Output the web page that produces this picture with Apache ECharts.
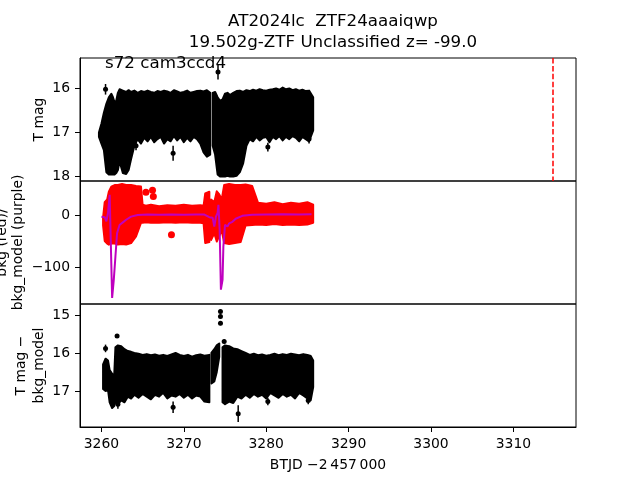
<!DOCTYPE html>
<html>
<head>
<meta charset="utf-8">
<script src="https://cdn.jsdelivr.net/npm/echarts@6/dist/echarts.min.js"></script>
<style>
html, body { margin: 0; padding: 0; background: #fff; }
#chart { width: 640px; height: 480px; }
</style>
</head>
<body>
<div id="chart"></div>
<script>
// ---- data ----
// top panel: T mag, outline of the dense error-bar cloud (bright edge / faint edge)
const magTimeA = [3259.7, 3260.0, 3260.3, 3260.6, 3260.9, 3261.2, 3261.4, 3261.6, 3261.8, 3262.0, 3262.2, 3262.6, 3263.0, 3263.3, 3263.6, 3264.0, 3264.4, 3264.8, 3265.2, 3265.6, 3266.0, 3266.4, 3266.8, 3267.2, 3267.6, 3268.0, 3268.4, 3268.8, 3269.2, 3269.6, 3270.0, 3270.4, 3270.8, 3271.2, 3271.6, 3272.0, 3272.4, 3272.8, 3273.2]
const magHiA = [17.0, 16.8, 16.55, 16.35, 16.2, 16.12, 16.2, 16.32, 16.28, 16.1, 16.02, 16.05, 16.08, 16.04, 16.08, 16.05, 16.1, 16.06, 16.08, 16.05, 16.08, 16.1, 16.06, 16.08, 16.05, 16.07, 16.1, 16.04, 16.07, 16.1, 16.08, 16.05, 16.1, 16.08, 16.06, 16.05, 16.07, 16.04, 16.1]
const magLoA = [17.1, 17.25, 17.4, 17.9, 17.95, 17.95, 17.95, 17.95, 17.92, 17.85, 17.65, 17.92, 17.94, 17.85, 17.6, 17.3, 17.15, 17.25, 17.12, 17.2, 17.1, 17.22, 17.15, 17.1, 17.25, 17.15, 17.2, 17.08, 17.18, 17.1, 17.22, 17.12, 17.2, 17.1, 17.15, 17.25, 17.45, 17.55, 17.5]
const magTimeB = [3273.5, 3273.8, 3274.1, 3274.4, 3274.7, 3275.0, 3275.3, 3275.6, 3276.0, 3276.4, 3276.8, 3277.2, 3277.6, 3278.0, 3278.4, 3278.8, 3279.2, 3279.6, 3280.0, 3280.4, 3280.8, 3281.2, 3281.6, 3282.0, 3282.4, 3282.8, 3283.2, 3283.6, 3284.0, 3284.4, 3284.8, 3285.2, 3285.7]
const magHiB = [16.1, 16.08, 16.2, 16.28, 16.25, 16.12, 16.1, 16.15, 16.1, 16.06, 16.05, 16.08, 16.04, 16.06, 16.03, 16.05, 16.02, 16.04, 16.05, 16.03, 16.02, 16.0, 16.03, 15.98, 16.02, 16.0, 16.04, 16.02, 16.05, 16.03, 16.06, 16.05, 16.2]
const magLoB = [17.3, 17.5, 17.95, 18.0, 18.0, 18.0, 17.98, 18.0, 18.0, 17.98, 17.9, 17.7, 17.3, 17.15, 17.2, 17.1, 17.18, 17.12, 17.1, 17.22, 17.1, 17.15, 17.08, 17.18, 17.1, 17.15, 17.08, 17.12, 17.2, 17.1, 17.15, 17.2, 16.95]
// single points outside the cloud: [time, mag, err]
const magPoints = [[3260.5, 16.02, 0.12], [3274.15, 15.63, 0.17], [3268.7, 17.47, 0.17], [3280.2, 17.33, 0.1], [3285.2, 17.15, 0.1], [3264.2, 17.3, 0.1], [3276.6, 17.58, 0.15]]
const discoveryTime = 3314.8

// middle panel: bkg (red) outline and bkg_model (purple)
const bkgTimeA = [3260.2, 3260.4, 3260.7, 3260.9, 3261.2, 3261.6, 3262.0, 3262.5, 3263.0, 3263.6, 3264.2, 3264.8, 3265.0, 3265.4, 3266.0, 3267.0, 3268.0, 3269.0, 3270.0, 3271.0, 3272.0, 3272.4, 3272.6, 3273.1]
const bkgHiA = [-5, 25, 30, 45, 55, 58, 58, 60, 58, 58, 56, 55, 20, 18, 20, 17, 19, 18, 20, 18, 19, 18, 42, 45]
const bkgLoA = [-20, -50, -55, -57, -55, -55, -57, -56, -57, -54, -41, -15, -15, -14, -15, -15, -14, -15, -14, -15, -15, -16, -54, -52]
const bkgTimeB = [3273.3, 3273.7, 3274.0, 3274.3, 3274.6, 3274.9, 3275.5, 3276.2, 3276.9, 3277.5, 3278.3, 3279.0, 3280.0, 3281.0, 3282.0, 3283.0, 3284.0, 3285.0, 3285.7]
const bkgHiB = [30, 25, 46, 40, 30, 58, 60, 58, 58, 59, 56, 24, 22, 25, 21, 24, 22, 25, 20]
const bkgLoB = [-48, -35, -51, -40, -30, -54, -56, -54, -52, -20, -19, -18, -19, -17, -19, -18, -19, -18, -15]
const bkgPoints = [[3265.4, 44], [3266.2, 48], [3266.3, 36], [3268.5, -38]]
const modelTime = [3260.0, 3260.4, 3260.6, 3260.8, 3261.0, 3261.1, 3261.3, 3261.5, 3261.7, 3261.9, 3262.2, 3262.6, 3263.0, 3263.6, 3264.4, 3265.6, 3267.0, 3268.5, 3270.0, 3271.5, 3272.5, 3273.1, 3273.5, 3273.7, 3273.9, 3274.1, 3274.2, 3274.35, 3274.5, 3274.7, 3274.8, 3275.0, 3275.3, 3275.5, 3275.9, 3276.3, 3277.1, 3278.3, 3280.0, 3282.0, 3284.0, 3285.5]
const modelValue = [-3, -4, -12, 4, 39, -28, -160, -125, -80, -35, -19, -14, -9, -3, 0, 1, 0.5, 1, 0.5, 1, 1, -4, -5, -22, -3, 4, 20, -28, -144, -125, -61, -19, -22, -16, -13, -7, -1.5, 0.5, 1, 1.5, 1, 1.5]

// bottom panel: T mag - bkg_model
const subTimeA = [3260.2, 3260.5, 3260.8, 3261.0, 3261.3, 3261.55, 3261.7, 3262.0, 3262.4, 3262.8, 3263.2, 3263.6, 3264.0, 3264.5, 3265.0, 3265.5, 3266.0, 3266.5, 3267.0, 3267.5, 3268.0, 3268.5, 3269.0, 3269.5, 3270.0, 3270.5, 3271.0, 3271.5, 3272.0, 3272.5, 3273.1]
const subHiA = [16.3, 16.15, 16.2, 16.45, 16.55, 16.6, 15.85, 15.8, 15.82, 15.9, 15.95, 15.97, 16.0, 16.02, 16.05, 16.03, 16.06, 16.04, 16.07, 16.05, 16.08, 16.04, 16.0, 16.05, 16.08, 16.05, 16.1, 16.06, 16.04, 16.07, 16.05]
const subLoA = [16.95, 17.0, 16.97, 17.3, 17.45, 17.4, 17.28, 17.35, 17.25, 17.3, 17.15, 17.2, 17.1, 17.18, 17.08, 17.15, 17.22, 17.1, 17.15, 17.05, 17.2, 17.12, 17.15, 17.08, 17.18, 17.1, 17.2, 17.12, 17.15, 17.28, 17.3]
const subTimeS = [3273.35, 3273.7, 3274.0, 3274.3]
const subHiS = [16.0, 15.9, 15.8, 15.75]
const subLoS = [16.8, 16.75, 16.5, 16.1]
const subTimeB = [3274.7, 3275.0, 3275.5, 3276.0, 3276.5, 3277.0, 3277.5, 3278.0, 3278.5, 3279.0, 3279.5, 3280.0, 3280.5, 3281.0, 3281.5, 3282.0, 3282.5, 3283.0, 3283.5, 3284.0, 3284.5, 3285.0, 3285.4, 3285.7]
const subHiB = [15.85, 15.8, 15.82, 15.88, 15.9, 15.95, 16.0, 16.05, 16.02, 16.06, 16.04, 16.07, 16.05, 16.02, 16.06, 16.03, 16.05, 16.02, 16.04, 16.06, 16.03, 16.05, 16.08, 16.2]
const subLoB = [17.3, 17.35, 17.28, 17.32, 17.15, 17.2, 17.1, 17.18, 17.08, 17.15, 17.1, 17.2, 17.05, 17.12, 17.18, 17.08, 17.15, 17.1, 17.2, 17.05, 17.12, 17.2, 17.25, 16.9]
const subPoints = [[3260.5, 15.88, 0.1], [3261.9, 15.55, 0.05], [3274.45, 14.91, 0.05], [3274.45, 15.04, 0.05], [3274.45, 15.22, 0.05], [3274.9, 15.7, 0.05], [3268.7, 17.43, 0.15], [3276.6, 17.6, 0.22], [3280.2, 17.28, 0.1], [3285.1, 17.25, 0.1], [3262.0, 17.35, 0.12]]

// axis ticks
const xTicks = [3260, 3270, 3280, 3290, 3300, 3310]
const magTicks = [16, 17, 18]
const bkgTicks = [-100, 0]
const subTicks = [15, 16, 17]

const FONT = 'DejaVu Sans'
const chart = echarts.init(document.getElementById('chart'))

const hull = function (axis, t, hi, lo, color) {
    return {
        type: 'custom',
        xAxisIndex: axis,
        yAxisIndex: axis,
        silent: true,
        data: [[t[0], hi[0]]],
        renderItem: function (params, api) {
            const pts = []
            for (let i = 0; i < t.length; i++) pts.push(api.coord([t[i], hi[i]]))
            for (let i = t.length - 1; i >= 0; i--) pts.push(api.coord([t[i], lo[i]]))
            return {
                type: 'polygon',
                shape: { points: pts },
                style: { fill: color, stroke: color, lineWidth: 2, lineJoin: 'round' }
            }
        }
    }
}

const errBars = function (axis, pts) {
    return {
        type: 'custom',
        xAxisIndex: axis,
        yAxisIndex: axis,
        silent: true,
        data: pts,
        encode: { x: 0, y: 1 },
        renderItem: function (params, api) {
            const t = api.value(0), v = api.value(1), e = api.value(2)
            const a = api.coord([t, v - e]), b = api.coord([t, v + e])
            return {
                type: 'line',
                shape: { x1: a[0], y1: a[1], x2: b[0], y2: b[1] },
                style: { stroke: '#000', lineWidth: 1.5 }
            }
        }
    }
}

const dots = function (axis, pts, color, size) {
    return {
        type: 'scatter',
        xAxisIndex: axis,
        yAxisIndex: axis,
        symbolSize: size,
        itemStyle: { color: color, opacity: 1 },
        data: pts.map(p => [p[0], p[1]])
    }
}

const xAxisBase = function (i, shown) {
    return {
        type: 'value',
        gridIndex: i,
        min: 3257.4,
        max: 3317.6,
        show: shown,
        splitLine: { show: false },
        axisLine: { lineStyle: { color: '#000', width: 1 } },
        axisTick: { show: shown, length: 5, lineStyle: { color: '#000' }, customValues: xTicks },
        axisLabel: { show: shown, margin: 10, color: '#000', fontFamily: FONT, fontSize: 13.9, customValues: xTicks,
            formatter: v => String(v) },
        name: shown ? 'BTJD \u22122\u2009457\u2009000' : '',
        nameLocation: 'middle',
        nameGap: 31,
        nameTextStyle: { color: '#000', fontFamily: FONT, fontSize: 13.9 }
    }
}

const yAxisBase = function (i, min, max, inverse, ticks) {
    return {
        type: 'value',
        gridIndex: i,
        min: min,
        max: max,
        inverse: inverse,
        splitLine: { show: false },
        axisLine: { show: true, lineStyle: { color: '#000', width: 1 } },
        axisTick: { show: true, length: 5, lineStyle: { color: '#000' }, customValues: ticks },
        axisLabel: { margin: 10, color: '#000', fontFamily: FONT, fontSize: 13.9, customValues: ticks,
            formatter: v => String(v).replace('-', '\u2212') }
    }
}

const gridBase = function (top) {
    return { left: 80, width: 496, top: top, height: 123, show: true, borderColor: '#000', borderWidth: 1, backgroundColor: 'transparent' }
}

const vText = function (x, y, text) {
    return {
        type: 'text', x: x, y: y, rotation: Math.PI / 2,
        style: { text: text, fill: '#000', font: '13.9px "' + FONT + '"', align: 'center', verticalAlign: 'middle' }
    }
}

const magDots = dots(0, magPoints, '#000', 5)
magDots.markLine = {
    silent: true,
    symbol: 'none',
    label: { show: false },
    lineStyle: { color: '#ff0000', type: [5.5, 2.4], width: 1.5 },
    data: [{ xAxis: discoveryTime }]
}

chart.setOption({
    animation: false,
    backgroundColor: '#fff',
    title: {
        text: 'AT2024lc  ZTF24aaaiqwp\n19.502g-ZTF Unclassified z= -99.0',
        left: 328,
        top: 6,
        textAlign: 'center',
        textStyle: { color: '#000', fontFamily: FONT, fontSize: 16.7, fontWeight: 'normal', lineHeight: 21 }
    },
    graphic: [
        { type: 'text', x: 105, y: 64, style: { text: 's72 cam3ccd4', fill: '#000', font: '16.7px "' + FONT + '"', verticalAlign: 'middle' } },
        vText(39, 119.5, 'T mag'),
        vText(2, 242.5, 'bkg (red)/'),
        vText(18, 242.5, 'bkg_model (purple)'),
        vText(21, 365.5, 'T mag \u2212'),
        vText(39, 365.5, 'bkg_model')
    ],
    grid: [gridBase(58), gridBase(181), gridBase(304)],
    xAxis: [xAxisBase(0, false), xAxisBase(1, false), xAxisBase(2, true)],
    yAxis: [
        yAxisBase(0, 15.31, 18.1, true, magTicks),
        yAxisBase(1, -171.6, 65.8, false, bkgTicks),
        yAxisBase(2, 14.71, 17.95, true, subTicks)
    ],
    series: [
        hull(0, magTimeA, magHiA, magLoA, '#000'),
        hull(0, magTimeB, magHiB, magLoB, '#000'),
        errBars(0, magPoints),
        magDots,
        hull(1, bkgTimeA, bkgHiA, bkgLoA, '#ff0000'),
        hull(1, bkgTimeB, bkgHiB, bkgLoB, '#ff0000'),
        dots(1, bkgPoints, '#ff0000', 7),
        {
            type: 'line',
            xAxisIndex: 1,
            yAxisIndex: 1,
            showSymbol: false,
            lineStyle: { color: '#bf00bf', width: 2 },
            data: modelTime.map((t, i) => [t, modelValue[i]])
        },
        hull(2, subTimeA, subHiA, subLoA, '#000'),
        hull(2, subTimeS, subHiS, subLoS, '#000'),
        hull(2, subTimeB, subHiB, subLoB, '#000'),
        errBars(2, subPoints),
        dots(2, subPoints, '#000', 5)
    ]
})
</script>
</body>
</html>
